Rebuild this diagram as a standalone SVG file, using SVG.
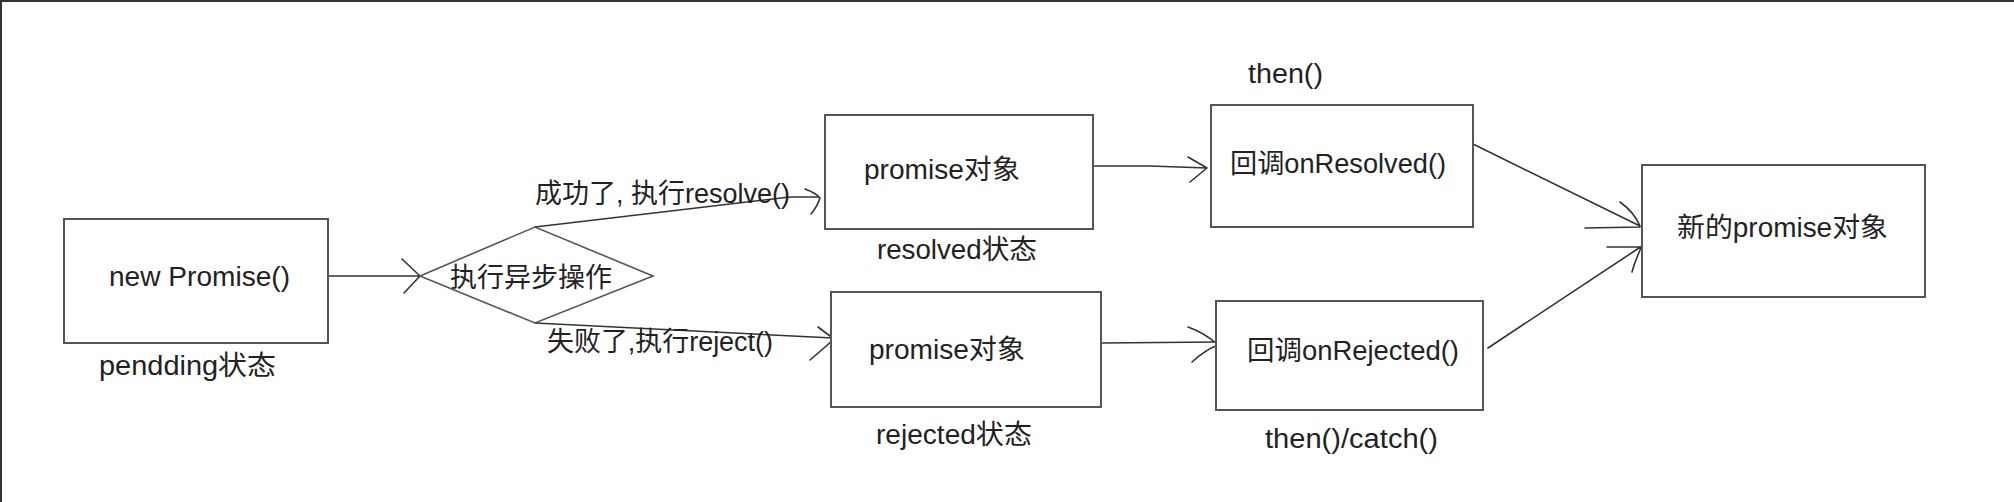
<svg xmlns="http://www.w3.org/2000/svg" width="2014" height="502" viewBox="0 0 2014 502">
<style>
.box{fill:#fff;stroke:#555;stroke-width:2}
.dia{fill:#fff;stroke:#555;stroke-width:1.6}
.ln{fill:none;stroke:#333;stroke-width:1.6;stroke-linecap:round;stroke-linejoin:round}
.t{font-family:"Liberation Sans","Noto Sans CJK SC",sans-serif;font-size:27px;fill:#222}
</style>
<rect x="0" y="0" width="2014" height="502" fill="#fff"/>
<rect x="0" y="0" width="2014" height="2" fill="#2f3237"/>
<rect x="0" y="0" width="2" height="502" fill="#2f3237"/>

<g id="connectors">
  <path class="ln" d="M328,276 L420,276 M402,259 L420,276 L404,293"/>
  <path class="ln" d="M535,227 L790,197 L818,197 M805,189 Q816,193 820,198 Q817,207 811,214"/>
  <path class="ln" d="M535,323 L833,338 M818,327 L834,339 Q822,350 810,360"/>
  <path class="ln" d="M1093,166 L1150,166 L1207,168 M1188,157 L1207,168 L1190,182"/>
  <path class="ln" d="M1101,343 L1218,342 M1188,327 Q1205,333 1218,345 M1192,362 Q1205,350 1218,345"/>
  <path class="ln" d="M1473,144 L1640,226 M1620,202 Q1634,212 1640,226 M1585,228 L1640,227"/>
  <path class="ln" d="M1488,348 L1642,246 M1607,247 L1642,247 M1632,272 Q1636,258 1642,246"/>
  <text class="t" x="535" y="203" textLength="255" lengthAdjust="spacingAndGlyphs">成功了, 执行resolve()</text>
  <text class="t" x="547" y="351" textLength="226" lengthAdjust="spacingAndGlyphs">失败了,执行reject()</text>
</g>

<g id="node-new-promise">
  <rect class="box" x="64" y="219" width="264" height="124"/>
  <text class="t" x="109" y="286" textLength="181" lengthAdjust="spacingAndGlyphs">new Promise()</text>
  <text class="t" x="99" y="375" textLength="177" lengthAdjust="spacingAndGlyphs">pendding状态</text>
</g>

<g id="node-async">
  <polygon class="dia" points="420,276 535,227 653,276 535,323"/>
  <text class="t" x="450" y="287" textLength="162" lengthAdjust="spacingAndGlyphs">执行异步操作</text>
</g>

<g id="node-resolved">
  <rect class="box" x="825" y="115" width="268" height="114"/>
  <text class="t" x="864" y="179" textLength="156" lengthAdjust="spacingAndGlyphs">promise对象</text>
  <text class="t" x="877" y="259" textLength="160" lengthAdjust="spacingAndGlyphs">resolved状态</text>
</g>

<g id="node-rejected">
  <rect class="box" x="831" y="292" width="270" height="115"/>
  <text class="t" x="869" y="359" textLength="156" lengthAdjust="spacingAndGlyphs">promise对象</text>
  <text class="t" x="876" y="444" textLength="156" lengthAdjust="spacingAndGlyphs">rejected状态</text>
</g>

<g id="node-on-resolved">
  <text class="t" x="1248" y="83" textLength="75" lengthAdjust="spacingAndGlyphs">then()</text>
  <rect class="box" x="1211" y="105" width="262" height="122"/>
  <text class="t" x="1230" y="173" textLength="216" lengthAdjust="spacingAndGlyphs">回调onResolved()</text>
</g>

<g id="node-on-rejected">
  <rect class="box" x="1216" y="301" width="267" height="109"/>
  <text class="t" x="1247" y="360" textLength="212" lengthAdjust="spacingAndGlyphs">回调onRejected()</text>
  <text class="t" x="1265" y="448" textLength="173" lengthAdjust="spacingAndGlyphs">then()/catch()</text>
</g>

<g id="node-new-promise-object">
  <rect class="box" x="1642" y="165" width="283" height="132"/>
  <text class="t" x="1677" y="237" textLength="211" lengthAdjust="spacingAndGlyphs">新的promise对象</text>
</g>
</svg>
